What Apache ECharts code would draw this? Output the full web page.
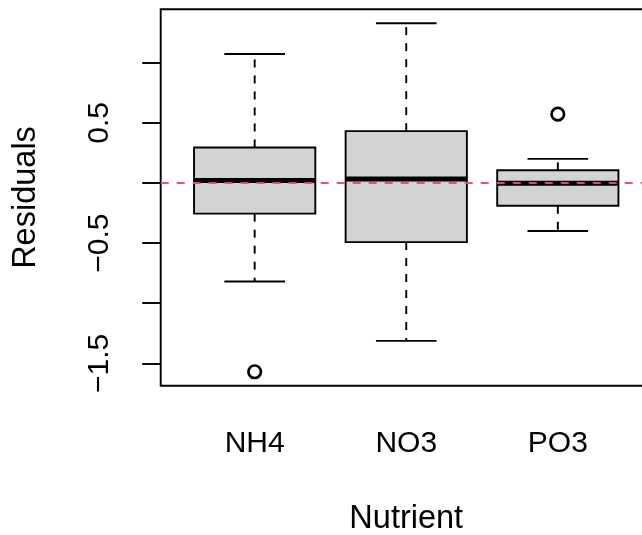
<!DOCTYPE html>
<html>
<head>
<meta charset="utf-8">
<script src="https://cdn.jsdelivr.net/npm/echarts@6/dist/echarts.min.js"></script>
<style>
html,body{margin:0;padding:0;background:#fff;}
#chart{width:642px;height:535px;}
</style>
</head>
<body>
<div id="chart"></div>
<script>
// ---- data ----
const categories = ['NH4', 'NO3', 'PO3'];
const lowerWhisker = [-0.820, -1.313, -0.400];
const q1 = [-0.255, -0.492, -0.190];
const median = [0.020, 0.033, -0.003];
const q3 = [0.295, 0.431, 0.105];
const upperWhisker = [1.072, 1.328, 0.200];
const outlierGroup = ['NH4', 'PO3'];
const outlierValue = [-1.570, 0.572];
const yTickValues = [-1.5, -1, -0.5, 0, 0.5, 1];
const yTickLabels = [-1.5, -0.5, 0.5];
const refLineValue = [0];

// ---- build options ----
const FONT = "'Liberation Sans', Arial, Helvetica, sans-serif";
const LW = 1.9;
const xPos = categories.map((c, i) => i + 1);
const boxData = categories.map((c, i) => [xPos[i], lowerWhisker[i], q1[i], median[i], q3[i], upperWhisker[i]]);
const outlierData = outlierGroup.map((g, i) => [categories.indexOf(g) + 1, outlierValue[i]]);

// R-style axis limits: extend the data range by 4%
const allY = lowerWhisker.concat(upperWhisker, outlierValue);
const yLo = Math.min(...allY), yHi = Math.max(...allY);
const yPad = 0.04 * (yHi - yLo);
const xLo = 0.5, xHi = categories.length + 0.5;
const xPad = 0.04 * (xHi - xLo);

const fmtMinus = v => (v < 0 ? '\u2212' + String(Math.abs(v)) : String(v));

function renderBox(params, api) {
  const x = api.value(0);
  const lo = api.value(1), b1 = api.value(2), md = api.value(3), b3 = api.value(4), hi = api.value(5);
  const halfBox = api.size([0.8, 0])[0] / 2;
  const halfCap = api.size([0.4, 0])[0] / 2;
  const pLo = api.coord([x, lo]), pQ1 = api.coord([x, b1]), pMd = api.coord([x, md]);
  const pQ3 = api.coord([x, b3]), pHi = api.coord([x, hi]);
  const cx = pMd[0];
  const dash = { stroke: '#000', lineWidth: LW, lineDash: [8, 8] };
  const solid = { stroke: '#000', lineWidth: LW };
  return {
    type: 'group',
    children: [
      { type: 'rect', shape: { x: cx - halfBox, y: pQ3[1], width: 2 * halfBox, height: pQ1[1] - pQ3[1] },
        style: { fill: '#D3D3D3', stroke: '#000', lineWidth: LW } },
      { type: 'line', shape: { x1: cx - halfBox, y1: pMd[1], x2: cx + halfBox, y2: pMd[1] },
        style: { stroke: '#000', lineWidth: 5, lineCap: 'butt' } },
      { type: 'line', shape: { x1: cx, y1: pQ1[1], x2: cx, y2: pLo[1] }, style: dash },
      { type: 'line', shape: { x1: cx, y1: pQ3[1], x2: cx, y2: pHi[1] }, style: dash },
      { type: 'line', shape: { x1: cx - halfCap, y1: pLo[1], x2: cx + halfCap, y2: pLo[1] }, style: solid },
      { type: 'line', shape: { x1: cx - halfCap, y1: pHi[1], x2: cx + halfCap, y2: pHi[1] }, style: solid }
    ]
  };
}

const chart = echarts.init(document.getElementById('chart'), null, { renderer: 'canvas' });
chart.setOption({
  animation: false,
  backgroundColor: '#fff',
  grid: {
    left: 160.7, top: 9.3, width: 491.1, height: 376.4,
    show: true, borderColor: '#000', borderWidth: LW, backgroundColor: 'transparent',
    containLabel: false, outerBoundsMode: 'none'
  },
  xAxis: {
    type: 'value', min: xLo - xPad, max: xHi + xPad,
    name: 'Nutrient', nameLocation: 'middle', nameGap: 117,
    nameTextStyle: { fontFamily: FONT, fontSize: 32.5, color: '#000', lineHeight: 32.5 },
    axisLine: { show: false },
    splitLine: { show: false },
    axisTick: { show: true, inside: false, length: 18.5, customValues: xPos, lineStyle: { color: '#000', width: LW } },
    axisLabel: { show: true, customValues: xPos, margin: 43, fontFamily: FONT, fontSize: 30, lineHeight: 30, color: '#000',
      formatter: v => categories[Math.round(v) - 1] }
  },
  yAxis: {
    type: 'value', min: yLo - yPad, max: yHi + yPad,
    name: 'Residuals', nameLocation: 'middle', nameGap: 118, nameRotate: 90,
    nameTextStyle: { fontFamily: FONT, fontSize: 32.5, color: '#000', lineHeight: 32.5 },
    axisLine: { show: false },
    splitLine: { show: false },
    axisTick: { show: true, inside: false, length: 18.5, customValues: yTickValues, lineStyle: { color: '#000', width: LW } },
    axisLabel: { show: true, customValues: yTickLabels, rotate: 90, margin: 46, fontFamily: FONT, fontSize: 30, lineHeight: 30, color: '#000',
      formatter: fmtMinus }
  },
  series: [
    {
      type: 'custom', name: 'box', renderItem: renderBox, data: boxData, z: 2,
      encode: { x: 0, y: [1, 2, 3, 4, 5] }, clip: false
    },
    {
      type: 'scatter', name: 'outliers', data: outlierData, symbol: 'circle', symbolSize: 12.5, z: 3,
      itemStyle: { color: 'rgba(0,0,0,0)', borderColor: '#000', borderWidth: 2.7, opacity: 1 },
      markLine: {
        silent: true, symbol: ['none', 'none'], label: { show: false },
        lineStyle: { color: '#DF536B', type: [8, 8], width: LW, opacity: 1 },
        data: refLineValue.map(v => ({ yAxis: v })),
        z: 5
      }
    }
  ]
});
</script>
</body>
</html>
